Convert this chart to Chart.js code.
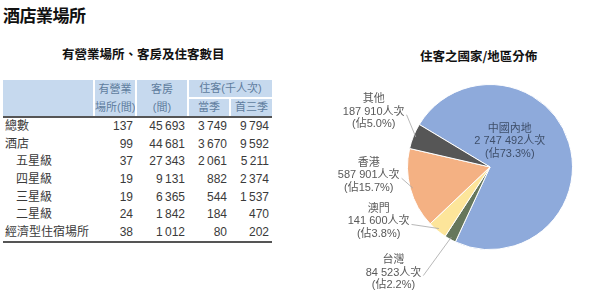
<!DOCTYPE html>
<html>
<head>
<meta charset="utf-8">
<script src="https://cdn.jsdelivr.net/npm/chart.js@4"></script>
<style>
  body { margin: 0; background: #fff; width: 607px; height: 299px; position: relative; overflow: hidden;
         font-family: "Liberation Sans", "Noto Sans CJK TC", sans-serif; color: #3a3a3a; }
  .title { position: absolute; left: 3px; top: 2px; font-size: 17px; font-weight: bold; color: #111;
           font-family: "Noto Sans CJK TC", sans-serif; letter-spacing: -0.5px; }
  .sub { position: absolute; font-size: 12.5px; font-weight: bold; color: #111;
         font-family: "Noto Sans CJK TC", sans-serif; }
  table { position: absolute; left: 3px; top: 80px; border-collapse: collapse; font-size: 12px;
          table-layout: fixed; width: 269px; }
  th { background: #c6d9ee; color: #5f7d9e; font-weight: normal; padding: 0; height: 17px; line-height: 17px;
       border-left: 2px solid #fff; font-size: 11px; white-space: nowrap; overflow: hidden; }
  th.first { border-left: none; }
  th.grp { border-bottom: 2px solid #fff; }
  thead tr:last-child th { border-bottom: 2px solid #555; }
  th.tall { border-bottom: 2px solid #555; }
  td { padding: 0 3px 0 0; height: 17.6px; line-height: 17px; text-align: right; white-space: nowrap; }
  td.lab { text-align: left; padding-left: 2px; }
  td.ind { padding-left: 13px; }
  tbody tr:last-child td { border-bottom: 2px solid #555; }
  #pieWrap { position: absolute; left: 300px; top: 0; width: 307px; height: 299px; }
</style>
</head>
<body>
<div class="title">酒店業場所</div>
<div class="sub" style="left:62px; top:44px;">有營業場所、客房及住客數目</div>
<div class="sub" style="left:420px; top:46px;">住客之國家/地區分佈</div>
<table id="tbl">
  <colgroup><col style="width:91px"><col style="width:42px"><col style="width:52px"><col style="width:42px"><col style="width:42px"></colgroup>
  <thead>
    <tr>
      <th class="first tall" rowspan="2"></th>
      <th class="tall" rowspan="2" style="line-height:18px">有營業<br>場所(間)</th>
      <th class="tall" rowspan="2" style="line-height:18px">客房<br>(間)</th>
      <th class="grp" colspan="2">住客(千人次)</th>
    </tr>
    <tr>
      <th>當季</th>
      <th>首三季</th>
    </tr>
  </thead>
  <tbody id="tb"></tbody>
</table>
<div id="pieWrap"><canvas id="pie" width="307" height="299"></canvas></div>
<script>
// table data
var rowNames = ['總數', '酒店', '五星級', '四星級', '三星級', '二星級', '經濟型住宿場所'];
var rowIndent = [false, false, true, true, true, true, false];
var establishments = ['137', '99', '37', '19', '19', '24', '38'];
var rooms = ['45\u2009693', '44\u2009681', '27\u2009343', '9\u2009131', '6\u2009365', '1\u2009842', '1\u2009012'];
var guestsQuarter = ['3\u2009749', '3\u2009670', '2\u2009061', '882', '544', '184', '80'];
var guestsYtd = ['9\u2009794', '9\u2009592', '5\u2009211', '2\u2009374', '1\u2009537', '470', '202'];

// pie data
var regions = ['中國內地', '台灣', '澳門', '香港', '其他'];
var guestCounts = [2747492, 84523, 141600, 587901, 187910];
var countText = ['2 747 492人次', '84 523人次', '141 600人次', '587 901人次', '187 910人次'];
var shareText = ['(佔73.3%)', '(佔2.2%)', '(佔3.8%)', '(佔15.7%)', '(佔5.0%)'];
var sliceColors = ['#8eaadb', '#66775c', '#fde59a', '#f4b183', '#565656'];

var tb = document.getElementById('tb');
rowNames.forEach(function (n, i) {
  var tr = document.createElement('tr');
  tr.innerHTML = '<td class="lab' + (rowIndent[i] ? ' ind' : '') + '">' + n + '</td>' +
    '<td>' + establishments[i] + '</td><td>' + rooms[i] + '</td><td>' + guestsQuarter[i] + '</td><td>' + guestsYtd[i] + '</td>';
  tb.appendChild(tr);
});

// label placement: offsets of each label block from the pie centre, in units of the radius
var labelPos = [[0.24, -0.31], [-1.17, 1.28], [-1.35, 0.66], [-1.47, 0.10], [-1.41, -0.67]];

var calloutPlugin = {
  id: 'callouts',
  afterDraw: function (chart) {
    var ctx = chart.ctx;
    var arcs = chart.getDatasetMeta(0).data;
    ctx.save();
    ctx.font = '11px "Liberation Sans", "Noto Sans CJK TC", sans-serif';
    ctx.textAlign = 'center';
    ctx.textBaseline = 'middle';
    arcs.forEach(function (arc, i) {
      var r = arc.outerRadius;
      var lx = arc.x + labelPos[i][0] * r;
      var ly = arc.y + labelPos[i][1] * r;
      if (i > 0) {
        var mid = (arc.startAngle + arc.endAngle) / 2;
        var ax = arc.x + Math.cos(mid) * r * 0.97;
        var ay = arc.y + Math.sin(mid) * r * 0.97;
        var w = ctx.measureText(countText[i]).width;
        ctx.strokeStyle = '#a6a6a6';
        ctx.lineWidth = 0.8;
        ctx.beginPath();
        ctx.moveTo(lx + w / 2 + 2, ly + 3);
        ctx.lineTo(ax, ay);
        ctx.stroke();
      }
      ctx.fillStyle = i === 0 ? '#3f4f6a' : '#595959';
      ctx.fillText(regions[i], lx, ly - 12.5);
      ctx.fillText(countText[i], lx, ly);
      ctx.fillText(shareText[i], lx, ly + 12.5);
    });
    ctx.restore();
  }
};

new Chart(document.getElementById('pie').getContext('2d'), {
  type: 'pie',
  data: {
    labels: regions,
    datasets: [{
      data: guestCounts,
      backgroundColor: sliceColors,
      borderColor: '#ffffff',
      borderWidth: 1
    }]
  },
  options: {
    responsive: false,
    animation: false,
    rotation: -59,
    layout: { padding: { left: 107, right: 34, top: 84, bottom: 49 } },
    plugins: { legend: { display: false }, tooltip: { enabled: false } }
  },
  plugins: [calloutPlugin]
});
</script>
</body>
</html>
